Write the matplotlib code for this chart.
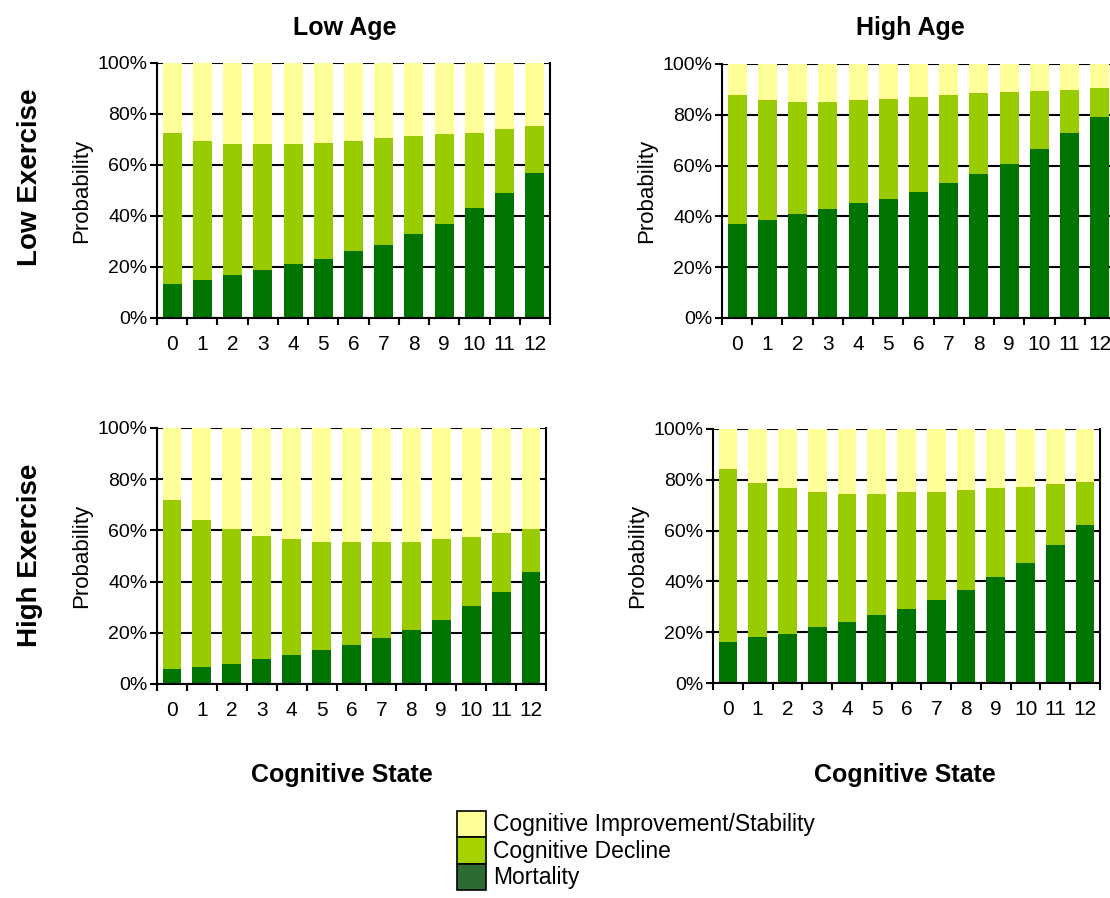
import matplotlib
matplotlib.use('Agg')
from matplotlib import pyplot as plt
from matplotlib.patches import Patch
from matplotlib.ticker import FixedLocator, PercentFormatter
import numpy as np

plt.rcParams['font.family'] = ['Liberation Sans', 'DejaVu Sans']

states = [str(i) for i in range(13)]
series_names = ['Cognitive Improvement/Stability', 'Cognitive Decline', 'Mortality']

# mortality share and cumulative top of the decline segment (%), per cognitive state
mort_low_ex_low_age = [13.5, 15.0, 16.8, 19.0, 21.0, 23.0, 26.3, 28.8, 33.0, 37.0, 43.0, 49.0, 56.7]
decl_top_low_ex_low_age = [72.7, 69.6, 68.3, 68.3, 68.3, 68.8, 69.6, 70.6, 71.4, 72.1, 72.7, 74.2, 75.4]

mort_low_ex_high_age = [37.2, 38.5, 41.1, 43.1, 45.1, 47.0, 49.7, 53.0, 56.5, 60.8, 66.5, 72.7, 79.0]
decl_top_low_ex_high_age = [87.8, 85.8, 85.2, 85.2, 85.8, 86.3, 87.1, 87.6, 88.4, 89.1, 89.5, 89.8, 90.4]

mort_high_ex_low_age = [5.7, 6.6, 7.8, 9.8, 11.3, 13.2, 15.2, 18.0, 21.2, 25.1, 30.5, 35.9, 43.6]
decl_top_high_ex_low_age = [72.0, 64.1, 60.7, 57.8, 56.8, 55.5, 55.5, 55.5, 55.5, 56.8, 57.6, 59.0, 60.7]

mort_high_ex_high_age = [16.2, 18.1, 19.4, 22.1, 24.0, 26.7, 29.3, 32.6, 36.8, 41.8, 47.4, 54.3, 62.2]
decl_top_high_ex_high_age = [84.2, 78.6, 76.6, 75.3, 74.6, 74.6, 75.3, 75.3, 76.0, 76.6, 77.3, 78.2, 79.2]

c_stable = '#ffff99'
c_decline = '#99cc00'
c_mort = '#007400'

W, H = 1110, 898
fig = plt.figure(figsize=(W / 100, H / 100), dpi=100)
fig.patch.set_facecolor('white')

def px_axes(x0, y0, x1, y1):
    # axes box given in pixel corners (top-left origin)
    return fig.add_axes([x0 / W, 1 - y1 / H, (x1 - x0) / W, (y1 - y0) / H])

def stacked_panel(ax, mort, decl_top):
    x = np.arange(len(states))
    mort = np.array(mort)
    decl = np.array(decl_top) - mort
    stab = 100 - np.array(decl_top)
    ax.bar(x, mort, 0.63, color=c_mort, zorder=2)
    ax.bar(x, decl, 0.63, bottom=mort, color=c_decline, zorder=2)
    ax.bar(x, stab, 0.63, bottom=mort + decl, color=c_stable, zorder=2)
    ax.set_xlim(-0.5, len(states) - 0.5)
    ax.set_ylim(0, 100)
    ax.yaxis.set_major_locator(FixedLocator([0, 20, 40, 60, 80, 100]))
    ax.yaxis.set_major_formatter(PercentFormatter(decimals=0))
    ax.grid(axis='y', color='black', linewidth=1.5, zorder=0)
    ax.set_axisbelow(True)
    ax.set_xticks(x)
    ax.set_xticklabels(states, fontsize=15)
    ax.set_xticks(np.arange(-0.5, len(states), 1), minor=True)
    ax.tick_params(axis='x', which='major', length=0, pad=12)
    ax.tick_params(axis='x', which='minor', length=5, width=1.5, direction='out')
    ax.tick_params(axis='y', length=5, width=1.5, direction='out', labelsize=14, pad=2)
    ax.spines['top'].set_visible(False)
    for s in ['left', 'bottom', 'right']:
        ax.spines[s].set_linewidth(1.5)
    ax.set_ylabel('Probability', fontsize=16, labelpad=4)

ax_tl = px_axes(157, 63, 550, 318)
stacked_panel(ax_tl, mort_low_ex_low_age, decl_top_low_ex_low_age)
ax_tr = px_axes(722, 64, 1115, 318)
stacked_panel(ax_tr, mort_low_ex_high_age, decl_top_low_ex_high_age)
ax_bl = px_axes(157, 428, 546, 684)
stacked_panel(ax_bl, mort_high_ex_low_age, decl_top_high_ex_low_age)
ax_br = px_axes(713, 429, 1100, 683)
stacked_panel(ax_br, mort_high_ex_high_age, decl_top_high_ex_high_age)

# column / row headers
fig.text(345 / W, 1 - 28 / H, 'Low Age', ha='center', va='center', fontsize=18, weight='bold')
fig.text(910 / W, 1 - 28 / H, 'High Age', ha='center', va='center', fontsize=18, weight='bold')
fig.text(30 / W, 1 - 177 / H, 'Low Exercise', ha='center', va='center', rotation=90, fontsize=20, weight='bold')
fig.text(30 / W, 1 - 555 / H, 'High Exercise', ha='center', va='center', rotation=90, fontsize=20, weight='bold')
fig.text(342 / W, 1 - 775 / H, 'Cognitive State', ha='center', va='center', fontsize=18, weight='bold')
fig.text(905 / W, 1 - 775 / H, 'Cognitive State', ha='center', va='center', fontsize=18, weight='bold')

handles = [Patch(facecolor=c_stable, edgecolor='black', linewidth=1.2),
           Patch(facecolor='#a6d200', edgecolor='black', linewidth=1.2),
           Patch(facecolor='#2e6b32', edgecolor='black', linewidth=1.2)]
fig.legend(handles, series_names, loc='upper left', bbox_to_anchor=(452 / W, 1 - 806 / H),
           frameon=False, fontsize=16.5, handlelength=1.3, handleheight=1.4,
           labelspacing=0.0, handletextpad=0.3, borderpad=0.2, borderaxespad=0)

fig.savefig('out.png', dpi=100, facecolor='white')
